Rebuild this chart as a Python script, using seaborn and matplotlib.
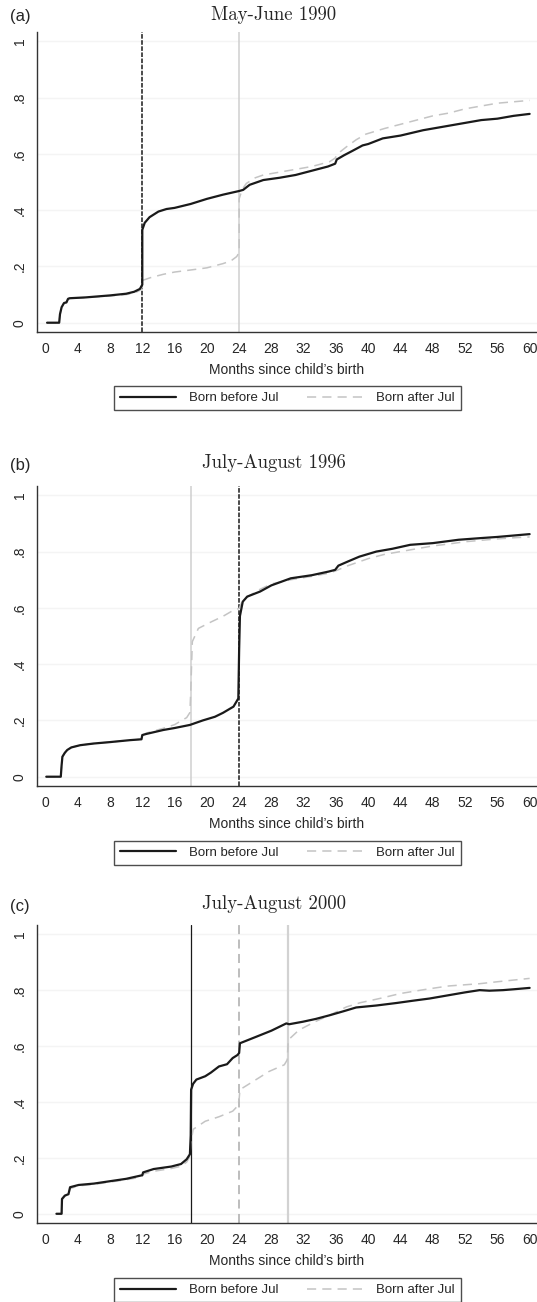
import matplotlib
matplotlib.use('Agg')
import matplotlib.pyplot as plt
from matplotlib.lines import Line2D
import seaborn as sns
import pandas

#DATA (share of mothers, by months since birth)
panel_tags = ['(a)', '(b)', '(c)']
panel_titles = ['May-June 1990', 'July-August 1996', 'July-August 2000']
series_names = ['Born before Jul', 'Born after Jul']
x_ticks = [0, 4, 8, 12, 16, 20, 24, 28, 32, 36, 40, 44, 48, 52, 56, 60]
y_ticks = [0, 0.2, 0.4, 0.6, 0.8, 1]
y_tick_labels = ['0', '.2', '.4', '.6', '.8', '1']
x_label = 'Months since child\u2019s birth'

#PANEL A - MAY-JUNE 1990
months_a_before = [0.2, 1.7, 1.8, 2.0, 2.3, 2.6, 2.8, 3.0, 5, 8, 10, 11, 11.7, 12.0, 12.0, 12.3, 12.9, 14, 15, 16,
                   18, 20, 22, 24, 24.5, 25.3, 27, 29, 31, 33, 35, 35.9, 36.1, 37, 38, 39.3, 40, 41.8, 44, 46.8,
                   48, 50, 52, 54, 56, 58, 60]
share_a_before = [0, 0, 0.03, 0.055, 0.07, 0.072, 0.085, 0.087, 0.09, 0.097, 0.103, 0.11, 0.12, 0.135, 0.33, 0.355,
                  0.375, 0.395, 0.404, 0.408, 0.422, 0.44, 0.455, 0.468, 0.472, 0.49, 0.507, 0.515, 0.525, 0.54,
                  0.555, 0.565, 0.58, 0.595, 0.61, 0.63, 0.635, 0.655, 0.665, 0.684, 0.69, 0.70, 0.71, 0.72,
                  0.725, 0.735, 0.742]
months_a_after = [0.2, 1.7, 1.8, 2.0, 2.3, 2.6, 2.8, 3.0, 5, 8, 10, 11, 11.7, 12.0, 12.0, 13, 14.6, 16, 18.7, 20,
                  22, 23, 23.7, 24.0, 24.0, 24.4, 24.9, 26, 27, 29, 31, 33, 35.2, 35.9, 36.2, 37.3, 38.5, 39.7,
                  42, 44, 46, 48, 50, 52, 54, 56, 58, 60]
share_a_after = [0, 0, 0.03, 0.055, 0.07, 0.075, 0.083, 0.086, 0.089, 0.095, 0.1, 0.105, 0.115, 0.125, 0.15, 0.16,
                 0.172, 0.18, 0.19, 0.195, 0.21, 0.22, 0.235, 0.25, 0.44, 0.475, 0.495, 0.515, 0.525, 0.535,
                 0.545, 0.555, 0.572, 0.585, 0.60, 0.625, 0.65, 0.67, 0.69, 0.705, 0.72, 0.735, 0.745, 0.76,
                 0.77, 0.78, 0.785, 0.79]

#PANEL B - JULY-AUGUST 1996
months_b_before = [0.1, 1.9, 2.0, 2.1, 2.4, 2.7, 3.2, 4.3, 6, 8, 10.5, 11.9, 12.0, 12.5, 14.6, 16, 17.9, 19.5, 21,
                   22, 23.3, 23.9, 24.0, 24.1, 24.45, 25, 26.6, 28, 30.4, 33, 35.1, 35.9, 36.3, 37.5, 38.9, 41,
                   43, 45.2, 48, 51.2, 54, 56, 58, 60]
share_b_before = [0, 0, 0.04, 0.071, 0.085, 0.095, 0.104, 0.112, 0.118, 0.123, 0.13, 0.133, 0.148, 0.152, 0.166,
                  0.173, 0.184, 0.20, 0.213, 0.227, 0.249, 0.278, 0.45, 0.571, 0.622, 0.64, 0.658, 0.68, 0.705,
                  0.716, 0.729, 0.735, 0.75, 0.765, 0.782, 0.80, 0.81, 0.824, 0.83, 0.842, 0.848, 0.852, 0.857,
                  0.862]
months_b_after = [0.1, 1.9, 2.0, 2.1, 2.4, 2.7, 3.2, 4.3, 6, 8, 10.5, 11.9, 12.0, 12.5, 14.6, 16, 17.5, 17.9, 18.0,
                  18.2, 18.95, 20.6, 22, 23.2, 24, 24.5, 26.6, 28, 30.4, 33, 35.1, 36, 37.5, 40, 42, 44, 46, 48,
                  50, 52, 54, 56, 58, 60]
share_b_after = [0, 0, 0.04, 0.071, 0.085, 0.095, 0.104, 0.112, 0.118, 0.123, 0.13, 0.133, 0.148, 0.155, 0.172,
                 0.185, 0.21, 0.228, 0.30, 0.48, 0.527, 0.551, 0.57, 0.59, 0.598, 0.63, 0.666, 0.685, 0.70, 0.712,
                 0.723, 0.732, 0.75, 0.775, 0.79, 0.80, 0.81, 0.82, 0.827, 0.835, 0.84, 0.845, 0.849, 0.852]

#PANEL C - JULY-AUGUST 2000
months_c_before = [1.36, 2.0, 2.05, 2.4, 2.85, 3.05, 4.1, 6, 8.35, 10, 11.7, 12.0, 12.1, 13.4, 15.6, 16.8, 17.5,
                   17.9, 18.0, 18.05, 18.3, 18.7, 19.8, 20.5, 21.5, 22.5, 23.2, 23.8, 24.0, 24.1, 26.1, 28, 29.85,
                   30.2, 31.9, 33.5, 35.2, 37, 38.5, 41, 43.5, 45.5, 47.6, 50, 52, 53.8, 55, 56.7, 58, 60]
share_c_before = [0, 0, 0.053, 0.065, 0.07, 0.095, 0.103, 0.108, 0.118, 0.125, 0.136, 0.138, 0.148, 0.16, 0.169,
                  0.178, 0.195, 0.213, 0.28, 0.444, 0.465, 0.48, 0.492, 0.505, 0.527, 0.535, 0.557, 0.568, 0.575,
                  0.61, 0.633, 0.655, 0.681, 0.678, 0.687, 0.697, 0.71, 0.725, 0.738, 0.745, 0.754, 0.762, 0.77,
                  0.782, 0.792, 0.80, 0.798, 0.80, 0.803, 0.808]
months_c_after = [1.36, 2.0, 2.05, 2.4, 2.85, 3.05, 4.1, 6, 8.35, 10, 11.7, 12.0, 12.1, 13.4, 15.6, 16.8, 17.5, 17.9,
                  18.0, 18.3, 19.8, 21.5, 23.2, 23.8, 24.0, 24.1, 26.1, 27.7, 29.6, 29.95, 30.1, 31.4, 33.4, 35.2,
                  37.3, 39, 41.4, 44, 47.6, 50, 53.8, 56, 58, 60]
share_c_after = [0, 0, 0.05, 0.062, 0.068, 0.09, 0.1, 0.105, 0.115, 0.122, 0.13, 0.135, 0.142, 0.152, 0.162, 0.17,
                 0.185, 0.205, 0.25, 0.302, 0.331, 0.347, 0.367, 0.385, 0.41, 0.444, 0.48, 0.509, 0.533, 0.55,
                 0.622, 0.657, 0.687, 0.71, 0.74, 0.755, 0.77, 0.788, 0.805, 0.815, 0.823, 0.83, 0.836, 0.842]

#REFERENCE LINES (month, colour, linestyle, width) for each panel
ref_lines = [
    [(24, '#cfcfcf', '-', 1.1), (12, '#1a1a1a', (0, (3, 1)), 1.1)],
    [(18, '#cfcfcf', '-', 1.1), (24, '#1a1a1a', (0, (3, 1)), 1.1)],
    [(30, '#d2d2d2', '-', 1.6), (24, '#b8b8b8', (0, (5, 3)), 1.3), (18, '#1a1a1a', '-', 0.9)],
]

panels = [
    (months_a_before, share_a_before, months_a_after, share_a_after),
    (months_b_before, share_b_before, months_b_after, share_b_after),
    (months_c_before, share_c_before, months_c_after, share_c_after),
]

sns.set_style('white')
plt.rcParams['font.family'] = ['Liberation Sans', 'DejaVu Sans']

W, H = 537, 1302
fig = plt.figure(figsize=(W / 100, H / 100), dpi=100)

# pixel positions (top of axes, bottom of axes, title y, legend y)
layout = [(32, 332, 15, 398), (486, 786, 463, 853), (925, 1223, 904, 1290)]

before_color = '#1a1a1a'
after_color = '#c4c4c4'
after_dash = (0, (6, 4))

for i, (mb, sb, ma, sa) in enumerate(panels):
    top, bottom, title_y, legend_y = layout[i]
    ax = fig.add_axes([36.5 / W, 1 - bottom / H, (W - 37) / W, (bottom - top) / H])

    for yt in y_ticks:
        ax.axhline(yt, color='#f4f4f4', lw=1, zorder=0)
    for xm, col, ls, lw in ref_lines[i]:
        ax.axvline(xm, color=col, linestyle=ls, lw=lw, zorder=1)

    df_before = pandas.DataFrame({'month': mb, 'share': sb})
    df_after = pandas.DataFrame({'month': ma, 'share': sa})
    sns.lineplot(data=df_after, x='month', y='share', ax=ax, estimator=None, sort=False,
                 color=after_color, lw=1.1, linestyle=after_dash, zorder=2)
    sns.lineplot(data=df_before, x='month', y='share', ax=ax, estimator=None, sort=False,
                 color=before_color, lw=1.6, zorder=3)

    ax.set_xlim(-1.11, 60.85)
    ax.set_ylim(-0.033, 1.033)
    ax.set_xticks(x_ticks)
    ax.set_xticklabels([str(t) for t in x_ticks], fontsize=10)
    ax.set_yticks(y_ticks)
    ax.set_yticklabels(y_tick_labels, fontsize=10, rotation=90, va='center')
    ax.tick_params(axis='both', direction='out', length=5, width=0.9, color='#333333', pad=2)
    ax.set_xlabel(x_label, fontsize=10, labelpad=5)
    ax.set_ylabel('')
    for side in ['top', 'right']:
        ax.spines[side].set_visible(False)
    for side in ['left', 'bottom']:
        ax.spines[side].set_color('#333333')
        ax.spines[side].set_linewidth(1.0)

    fig.text(274 / W, 1 - title_y / H, panel_titles[i], ha='center', va='center',
             family='cmr10', fontsize=13.5)
    fig.text(10 / W, 1 - (title_y + 2) / H, panel_tags[i], ha='left', va='center', fontsize=12)

    handles = [Line2D([], [], color=before_color, lw=1.6),
               Line2D([], [], color=after_color, lw=1.1, linestyle=after_dash)]
    leg = ax.legend(handles, series_names, loc='center', bbox_to_anchor=(287.5 / W, 1 - legend_y / H),
                    bbox_transform=fig.transFigure, ncol=2, fontsize=9.5, frameon=True, fancybox=False,
                    handlelength=4.2, handletextpad=1.0, columnspacing=2.2, borderpad=0.45,
                    borderaxespad=0)
    leg.get_frame().set_edgecolor('#222222')
    leg.get_frame().set_linewidth(1.0)

fig.savefig('out.png', dpi=100)
